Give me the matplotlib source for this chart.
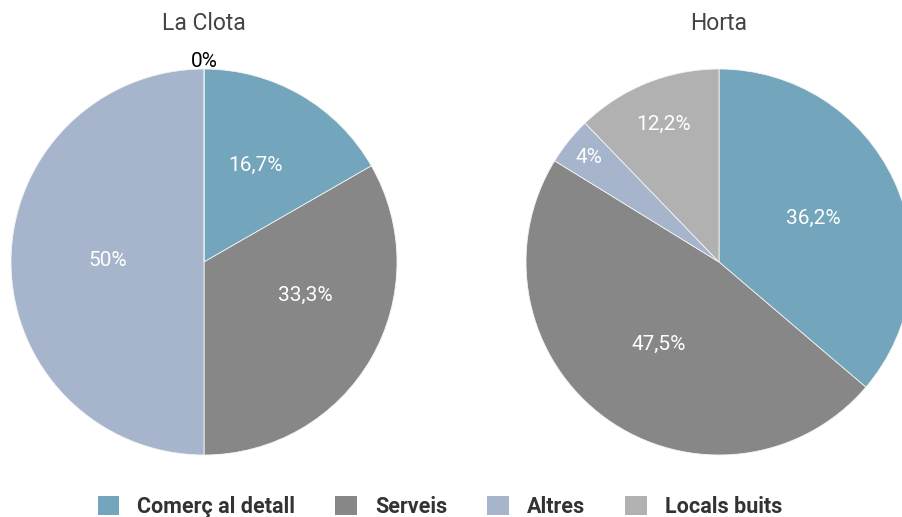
import matplotlib
matplotlib.use("Agg")
import matplotlib.pyplot as plt
from matplotlib.patches import Patch
import numpy as np

categories = ["Comerç al detall", "Serveis", "Altres", "Locals buits"]
colors = ["#73a5bc", "#878787", "#a6b5cc", "#b1b1b1"]
titles = ["La Clota", "Horta"]
values_clota = [16.7, 33.3, 50.0, 0.0]
values_horta = [36.2, 47.5, 4.0, 12.2]
labels_clota = ["16,7%", "33,3%", "50%", "0%"]
labels_horta = ["36,2%", "47,5%", "4%", "12,2%"]

plt.rcParams['font.family'] = ['Roboto', 'DejaVu Sans']

W, H = 902, 517
fig = plt.figure(figsize=(W / 100, H / 100), dpi=100)

R = 193
def make_ax(cx, cy):
    return fig.add_axes([(cx - R) / W, (H - cy - R) / H, 2 * R / W, 2 * R / H])

def draw(ax, vals, labs, dists, offs):
    wedges, texts = ax.pie(vals, colors=colors, startangle=90, counterclock=False,
                           labels=labs, labeldistance=0.55, radius=1,
                           wedgeprops=dict(edgecolor="#f4f4f4", linewidth=0.6))
    for t, d, o, w in zip(texts, dists, offs, wedges):
        ang = np.deg2rad((w.theta1 + w.theta2) / 2 + o)
        t.set_position((d * np.cos(ang), d * np.sin(ang)))
        t.set_ha("center"); t.set_va("center")
        t.set_fontsize(15)
        t.set_color("white")
    ax.set_xlim(-1, 1); ax.set_ylim(-1, 1)
    ax.set_aspect("equal")
    ax.axis("off")
    return texts

ax1 = make_ax(204, 262)
t1 = draw(ax1, values_clota, labels_clota, [0.57, 0.55, 0.50, 1.04], [2, 12, -1, 0])
t1[3].set_color("black")
ax2 = make_ax(719, 262)
draw(ax2, values_horta, labels_horta, [0.54, 0.53, 0.865, 0.77], [0, 0, 0, 0])

fig.text(204 / W, 1 - 24 / H, titles[0], ha="center", va="center", fontsize=16.5, color="#444444")
fig.text(719 / W, 1 - 24 / H, titles[1], ha="center", va="center", fontsize=16.5, color="#444444")

handles = [Patch(facecolor=c, edgecolor="none") for c in colors]
fig.legend(handles, categories, loc="center", bbox_to_anchor=(440 / W, 1 - 507 / H), ncol=4,
           frameon=False, prop=dict(weight="bold", size=15.5), labelcolor="#333333",
           handlelength=1.0, handleheight=1.0, handletextpad=0.85, columnspacing=1.85)

fig.savefig("out.png", dpi=100)
